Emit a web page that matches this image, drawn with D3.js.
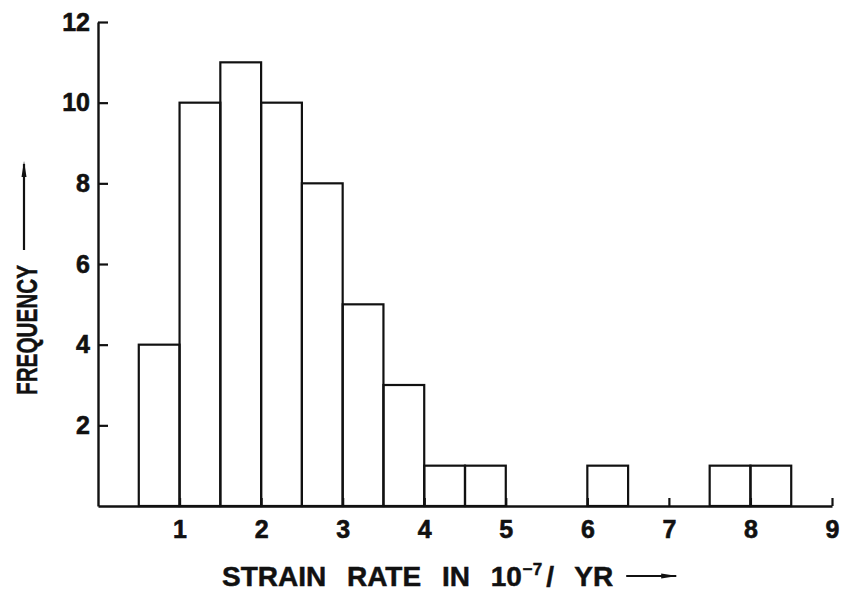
<!DOCTYPE html>
<html>
<head>
<meta charset="utf-8">
<script src="https://cdn.jsdelivr.net/npm/d3@7"></script>
<style>
  html, body { margin: 0; padding: 0; background: #fff; }
  svg { display: block; }
  text { font-family: "Liberation Sans", Arial, sans-serif; font-weight: bold; fill: #111; }
</style>
</head>
<body>
<div id="chart"></div>
<script>
// --- data ---
const binStarts = [0.5, 1, 1.5, 2, 2.5, 3, 3.5, 4, 4.5, 6, 7.5, 8];
const counts    = [4, 10, 11, 10, 8, 5, 3, 1, 1, 1, 1, 1];
const binWidth  = 0.5;
const xTicks = [1, 2, 3, 4, 5, 6, 7, 8, 9];
const yTicks = [2, 4, 6, 8, 10, 12];
const xLabel = "STRAIN RATE IN 10";
const xLabelSup = "\u22127";
const xLabelTail = "/ YR";
const yLabel = "FREQUENCY";

const width = 841, height = 594;
const margin = { top: 22, right: 9, bottom: 88, left: 98 };

const svg = d3.select("#chart").append("svg")
  .attr("width", width)
  .attr("height", height);

const x = d3.scaleLinear().domain([0, 9]).range([margin.left, width - margin.right]);
const y = d3.scaleLinear().domain([0, 12]).range([height - margin.bottom, margin.top]);

const ink = "#111";

// 直條
const bars = binStarts.map((s, i) => ({ x0: s, x1: s + binWidth, n: counts[i] }));
svg.append("g")
  .selectAll("rect")
  .data(bars)
  .join("rect")
    .attr("x", d => x(d.x0))
    .attr("y", d => y(d.n))
    .attr("width", d => x(d.x1) - x(d.x0))
    .attr("height", d => y(0) - y(d.n))
    .attr("fill", "none")
    .attr("stroke", ink)
    .attr("stroke-width", 2.2);

// y 軸 (刻度朝內)
const yAxis = svg.append("g")
  .attr("transform", `translate(${margin.left},0)`)
  .call(d3.axisLeft(y).tickValues(yTicks).tickSizeInner(-10).tickSizeOuter(0).tickPadding(8));

// x 軸 (刻度朝上)
const xAxis = svg.append("g")
  .attr("transform", `translate(0,${y(0)})`)
  .call(d3.axisBottom(x).tickValues(xTicks).tickSizeInner(-8).tickSizeOuter(0).tickPadding(14));

[yAxis, xAxis].forEach(g => {
  g.attr("font-size", null);
  g.select(".domain").attr("stroke", ink).attr("stroke-width", 2.4);
  g.selectAll(".tick line").attr("stroke", ink).attr("stroke-width", 2.2);
  g.selectAll(".tick text")
    .attr("fill", ink)
    .attr("stroke", ink)
    .attr("stroke-width", 0.6)
    .style("font-family", '"Liberation Sans", Arial, sans-serif')
    .style("font-weight", "bold")
    .style("font-size", "25px");
});

// x 軸標題
const xt = svg.append("text")
  .attr("x", 222)
  .attr("y", 586)
  .attr("stroke", ink)
  .attr("stroke-width", 0.5)
  .style("font-size", "28px")
  .style("word-spacing", "13px");
xt.append("tspan").text(xLabel);
xt.append("tspan").attr("dy", -11).attr("dx", 1).style("font-size", "17px").text(xLabelSup);
xt.append("tspan").attr("dy", 11).attr("dx", 4).text(xLabelTail);

const xtEnd = 222 + xt.node().getComputedTextLength();
svg.append("line")
  .attr("x1", xtEnd + 18).attr("x2", xtEnd + 68)
  .attr("y1", 576).attr("y2", 576)
  .attr("stroke", ink).attr("stroke-width", 2.2);
svg.append("path")
  .attr("d", `M${xtEnd + 69},576 l-16,-2.5 l0,5 z`)
  .attr("fill", ink);

// y 軸標題
svg.append("text")
  .attr("transform", "translate(37,395) rotate(-90)")
  .attr("textLength", 130)
  .attr("lengthAdjust", "spacingAndGlyphs")
  .attr("stroke", ink)
  .attr("stroke-width", 0.5)
  .style("font-size", "29px")
  .text(yLabel);

svg.append("line")
  .attr("x1", 24).attr("x2", 24)
  .attr("y1", 250).attr("y2", 164)
  .attr("stroke", ink).attr("stroke-width", 2.2);
svg.append("path")
  .attr("d", "M24,161 l-2.5,16 l5,0 z")
  .attr("fill", ink);
</script>
</body>
</html>
